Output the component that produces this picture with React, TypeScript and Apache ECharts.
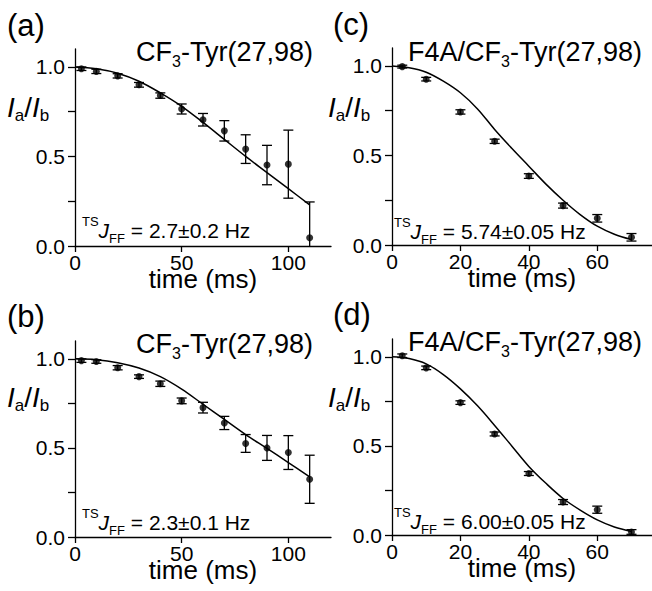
import React, { useEffect, useRef } from "react";
import * as echarts from "echarts";

const FONT = '"Liberation Sans", Arial, Helvetica, sans-serif';

// measured points (time in ms, ratio Ia/Ib, error)
const timesAB = [3, 10, 20, 30, 40, 50, 60, 70, 80, 90, 100, 110];
const ratioA = [0.99, 0.975, 0.95, 0.9, 0.84, 0.765, 0.705, 0.643, 0.541, 0.452, 0.457, 0.046];
const errA = [0.01, 0.012, 0.012, 0.013, 0.015, 0.028, 0.035, 0.057, 0.08, 0.11, 0.19, 0.2];
const ratioB = [0.99, 0.985, 0.95, 0.9, 0.86, 0.764, 0.726, 0.64, 0.525, 0.5, 0.474, 0.324];
const errB = [0.01, 0.01, 0.012, 0.01, 0.015, 0.016, 0.03, 0.037, 0.05, 0.07, 0.095, 0.135];

const timesCD = [3, 10, 20, 30, 40, 50, 60, 70];
const ratioC = [0.996, 0.926, 0.743, 0.579, 0.385, 0.22, 0.149, 0.043];
const errC = [0.008, 0.01, 0.012, 0.012, 0.013, 0.014, 0.021, 0.021];
const ratioD = [1.006, 0.938, 0.743, 0.567, 0.345, 0.185, 0.142, 0.017];
const errD = [0.01, 0.01, 0.01, 0.011, 0.011, 0.014, 0.02, 0.013];

// fitted curves
const fitTimesAB = [0, 10, 20, 30, 40, 50, 60, 70, 80, 90, 100, 110];
const fitA = [1.0, 0.99, 0.965, 0.92, 0.855, 0.78, 0.69, 0.595, 0.5, 0.41, 0.32, 0.23];
const fitB = [1.0, 0.995, 0.978, 0.948, 0.9, 0.83, 0.745, 0.66, 0.575, 0.497, 0.418, 0.337];
const fitTimesCD = [0, 5, 10, 15, 20, 25, 30, 35, 40, 45, 50, 55, 60, 65, 70];
const fitC = [1.0, 0.99, 0.965, 0.915, 0.85, 0.76, 0.645, 0.54, 0.44, 0.34, 0.25, 0.17, 0.105, 0.06, 0.03];
const fitD = [1.0, 0.99, 0.96, 0.9, 0.82, 0.725, 0.615, 0.5, 0.385, 0.29, 0.205, 0.14, 0.085, 0.045, 0.02];

const xTicksAB = [0, 50, 100];
const xTicksCD = [0, 20, 40, 60];
const yTicks = [0, 0.25, 0.5, 0.75, 1.0];
const yLabels = [0, 0.5, 1.0];

const panelLetters = ["(a)", "(b)", "(c)", "(d)"];
const constructPrefix = ["", "", "F4A/", "F4A/"];
const couplings = ["2.7±0.2", "2.3±0.1", "5.74±0.05", "6.00±0.05"];

const panels = [
  { times: timesAB, vals: ratioA, errs: errA, fitT: fitTimesAB, fit: fitA, xMax: 120, xTicks: xTicksAB,
    grid: { left: 75, top: 49, width: 256, height: 197 } },
  { times: timesAB, vals: ratioB, errs: errB, fitT: fitTimesAB, fit: fitB, xMax: 120, xTicks: xTicksAB,
    grid: { left: 75, top: 341, width: 256, height: 196 } },
  { times: timesCD, vals: ratioC, errs: errC, fitT: fitTimesCD, fit: fitC, xMax: 76, xTicks: xTicksCD,
    grid: { left: 392, top: 48, width: 260, height: 197 } },
  { times: timesCD, vals: ratioD, errs: errD, fitT: fitTimesCD, fit: fitD, xMax: 76, xTicks: xTicksCD,
    grid: { left: 392, top: 339, width: 260, height: 196 } },
];

// text placement
const letterPos = [[7, 25], [7, 316], [333, 24], [333, 314]];
const titlePos = [[313, 52], [313, 344], [642, 52], [642, 342]];
const ylabPos = [[7, 107], [7, 397], [328, 107], [328, 397]];
const jPos = [[82, 230], [82, 522], [394, 231], [394, 521]];

export default function App() {
  const ref = useRef<HTMLDivElement>(null);
  useEffect(() => {
    const chart = echarts.init(ref.current!, null, { renderer: "svg" });
    const axisLine = { show: true, lineStyle: { color: "#000", width: 1.3 } };
    const grids: any[] = [];
    const xAxes: any[] = [];
    const yAxes: any[] = [];
    const series: any[] = [];
    const graphics: any[] = [];

    panels.forEach((p, i) => {
      grids.push({ ...p.grid, containLabel: false, outerBoundsMode: "none" });
      xAxes.push({
        type: "value", gridIndex: i, min: 0, max: p.xMax,
        axisLine, splitLine: { show: false },
        axisTick: { show: true, length: 6, customValues: p.xTicks, lineStyle: { color: "#000", width: 1.3 } },
        axisLabel: { customValues: p.xTicks, color: "#000", fontSize: 21, lineHeight: 17, fontFamily: FONT, margin: 8 },
        name: "time (ms)", nameLocation: "middle", nameGap: 23, nameMoveOverlap: false,
        nameTextStyle: { color: "#000", fontSize: 26, lineHeight: 20, fontFamily: FONT },
      });
      yAxes.push({
        type: "value", gridIndex: i, min: 0, max: 1.1,
        axisLine, splitLine: { show: false },
        axisTick: { show: true, length: 7, customValues: yTicks, lineStyle: { color: "#000", width: 1.3 } },
        axisLabel: {
          customValues: yLabels, color: "#000", fontSize: 21, fontFamily: FONT, margin: 10,
          formatter: (v: number) => v.toFixed(1),
        },
      });
      series.push({
        type: "line", xAxisIndex: i, yAxisIndex: i, smooth: 0.35, showSymbol: false, silent: true,
        data: p.fitT.map((t, k) => [t, p.fit[k]]),
        lineStyle: { color: "#000", width: 1.5 }, z: 2,
      });
      series.push({
        type: "custom", xAxisIndex: i, yAxisIndex: i, silent: true, z: 3,
        data: p.times.map((t, k) => [t, p.vals[k], p.errs[k]]),
        encode: { x: 0, y: 1 },
        renderItem: (_params: any, api: any) => {
          const x = api.value(0);
          const y = api.value(1);
          const e = api.value(2);
          const hi = api.coord([x, y + e]);
          const lowVal = Math.max(y - e, 0);
          const lo = api.coord([x, lowVal]);
          const hw = 5;
          const st = { stroke: "#000", lineWidth: 1.3 };
          const children: any[] = [
            { type: "line", shape: { x1: hi[0], y1: hi[1], x2: lo[0], y2: lo[1] }, style: st },
            { type: "line", shape: { x1: hi[0] - hw, y1: hi[1], x2: hi[0] + hw, y2: hi[1] }, style: st },
          ];
          if (y - e >= 0) {
            children.push({ type: "line", shape: { x1: lo[0] - hw, y1: lo[1], x2: lo[0] + hw, y2: lo[1] }, style: st });
          }
          return { type: "group", children };
        },
      });
      series.push({
        type: "scatter", xAxisIndex: i, yAxisIndex: i, silent: true, z: 4,
        symbol: "circle", symbolSize: 7,
        itemStyle: { color: "#000" },
        data: p.times.map((t, k) => [t, p.vals[k]]),
      });

      graphics.push({
        type: "text", x: letterPos[i][0], y: letterPos[i][1],
        style: { text: panelLetters[i], font: `31px ${FONT}`, fill: "#000", textAlign: "left", textVerticalAlign: "middle" },
      });
      graphics.push({
        type: "text", x: titlePos[i][0], y: titlePos[i][1],
        style: {
          text: `{n|${constructPrefix[i]}CF}{s|3}{n|-Tyr(27,98)}`,
          textAlign: "right", textVerticalAlign: "middle", fill: "#000",
          rich: {
            n: { fontSize: 27, fontFamily: FONT, lineHeight: 34, fill: "#000" },
            s: { fontSize: 16, fontFamily: FONT, lineHeight: 10, verticalAlign: "bottom", fill: "#000" },
          },
        },
      });
      graphics.push({
        type: "text", x: ylabPos[i][0], y: ylabPos[i][1],
        style: {
          text: "{i|I}{s|a}{n|/}{i|I}{s|b}",
          textAlign: "left", textVerticalAlign: "middle", fill: "#000",
          rich: {
            i: { fontSize: 28, fontFamily: FONT, fontStyle: "italic", lineHeight: 34, fill: "#000" },
            n: { fontSize: 28, fontFamily: FONT, lineHeight: 34, fill: "#000" },
            s: { fontSize: 17, fontFamily: FONT, lineHeight: 11, verticalAlign: "bottom", fill: "#000" },
          },
        },
      });
      graphics.push({
        type: "text", x: jPos[i][0], y: jPos[i][1],
        style: {
          text: `{p|TS}{j|J}{s|FF}{n| = ${couplings[i]} Hz}`,
          textAlign: "left", textVerticalAlign: "middle", fill: "#000",
          rich: {
            p: { fontSize: 13, fontFamily: FONT, lineHeight: 12, verticalAlign: "top", fill: "#000" },
            j: { fontSize: 21, fontFamily: FONT, fontStyle: "italic", lineHeight: 30, fill: "#000" },
            s: { fontSize: 13, fontFamily: FONT, lineHeight: 10, verticalAlign: "bottom", fill: "#000" },
            n: { fontSize: 21, fontFamily: FONT, lineHeight: 30, fill: "#000" },
          },
        },
      });
    });

    chart.setOption({
      animation: false,
      backgroundColor: "#fff",
      textStyle: { fontFamily: FONT },
      grid: grids,
      xAxis: xAxes,
      yAxis: yAxes,
      series,
      graphic: graphics,
    });
    return () => chart.dispose();
  }, []);
  return (
    <div
      ref={ref}
      style={{ position: "absolute", left: 0, top: 0, width: 652, height: 591, background: "#fff" }}
    />
  );
}
